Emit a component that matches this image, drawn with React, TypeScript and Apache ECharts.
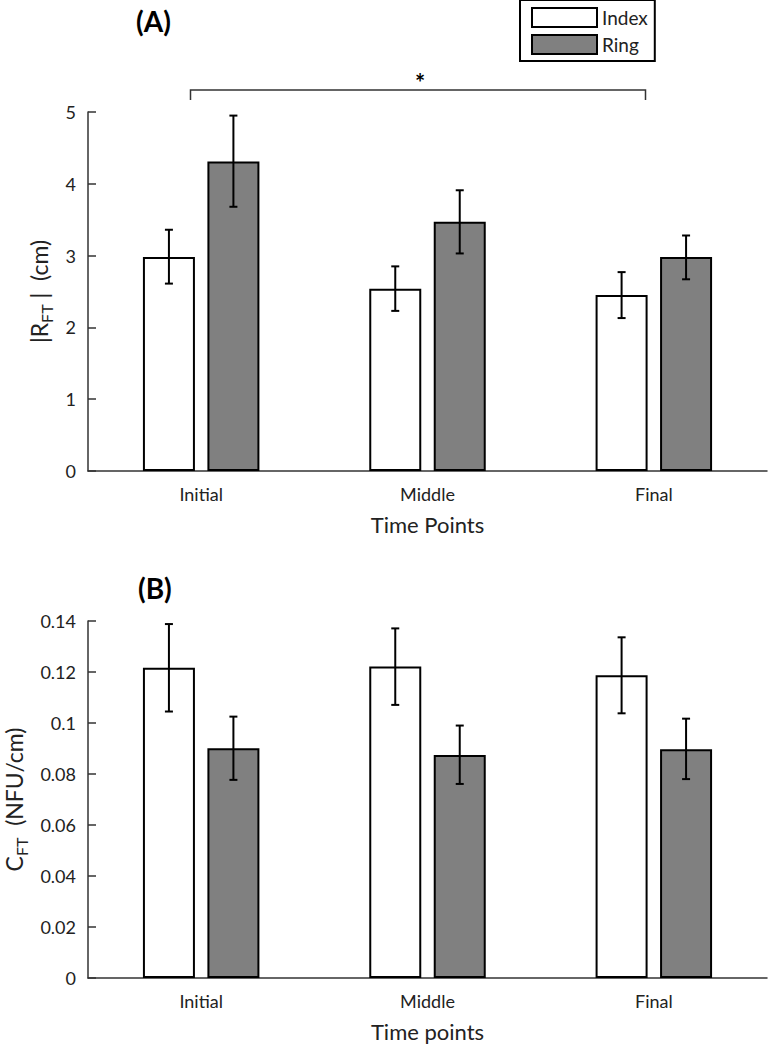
import React, { useEffect, useRef } from "react";
import * as echarts from "echarts";

const categories = ["Initial", "Middle", "Final"];
const seriesNames = ["Index", "Ring"];

// Panel A: |R_FT| (cm)
const indexA = [2.98, 2.54, 2.45];
const indexALow = [2.61, 2.23, 2.13];
const indexAHigh = [3.36, 2.85, 2.77];
const ringA = [4.31, 3.47, 2.98];
const ringALow = [3.68, 3.03, 2.67];
const ringAHigh = [4.95, 3.91, 3.28];

// Panel B: C_FT (NFU/cm)
const indexB = [0.1217, 0.1222, 0.1187];
const indexBLow = [0.1045, 0.1071, 0.1038];
const indexBHigh = [0.1388, 0.1371, 0.1336];
const ringB = [0.0901, 0.0875, 0.0897];
const ringBLow = [0.0777, 0.0761, 0.078];
const ringBHigh = [0.1025, 0.099, 0.1017];

const FONT = "Lato";
const TXT = "#222";
const AX = "#333";
const BAR_W = 52;
const GAP_PCT = 24;
const OFFSET = BAR_W / 2 + (BAR_W * GAP_PCT) / 100 / 2;

function errSeries(name: string, gi: number, low: number[], high: number[], off: number) {
  return {
    type: "custom",
    name: name + "Err",
    xAxisIndex: gi,
    yAxisIndex: gi,
    z: 10,
    silent: true,
    data: low.map((l, i) => [i, l, high[i]]),
    renderItem: (params: any, api: any) => {
      const c = api.value(0);
      const pLo = api.coord([c, api.value(1)]);
      const pHi = api.coord([c, api.value(2)]);
      const x = pLo[0] + off;
      const h = 4;
      const st = { stroke: "#000", lineWidth: 2 };
      return {
        type: "group",
        children: [
          { type: "line", shape: { x1: x, y1: pLo[1], x2: x, y2: pHi[1] }, style: st },
          { type: "line", shape: { x1: x - h, y1: pLo[1], x2: x + h, y2: pLo[1] }, style: st },
          { type: "line", shape: { x1: x - h, y1: pHi[1], x2: x + h, y2: pHi[1] }, style: st },
        ],
      };
    },
  };
}

function barSeries(name: string, gi: number, data: number[], color: string) {
  return {
    type: "bar",
    name,
    xAxisIndex: gi,
    yAxisIndex: gi,
    data,
    barWidth: BAR_W,
    barGap: GAP_PCT + "%",
    itemStyle: { color, borderColor: "#000", borderWidth: 2 },
  };
}

function xAxis(gi: number, name: string) {
  return {
    type: "category",
    gridIndex: gi,
    data: categories,
    axisLine: { lineStyle: { color: AX, width: 1.5 } },
    axisTick: { alignWithLabel: true, inside: true, length: 6, lineStyle: { color: AX, width: 1.5 } },
    axisLabel: { color: TXT, fontFamily: FONT, fontSize: 18, margin: 14 },
    name,
    nameLocation: "middle",
    nameGap: 42,
    nameTextStyle: { color: TXT, fontFamily: FONT, fontSize: 22 },
  };
}

function yName(gap: number) {
  return {
    nameLocation: "middle",
    nameGap: gap,
    nameRotate: 90,
    nameTextStyle: {
      color: TXT,
      fontFamily: FONT,
      fontSize: 23,
      lineHeight: 24,
      rich: { s: { fontFamily: FONT, fontSize: 16, color: TXT, verticalAlign: "bottom", lineHeight: 16, padding: [0, 0, -4, 0] } },
    },
  };
}

export default function App() {
  const ref = useRef<HTMLDivElement>(null);
  useEffect(() => {
    if (!ref.current) return;
    const chart = echarts.init(ref.current, undefined, { renderer: "svg" });
    const yCommon = {
      type: "value",
      splitLine: { show: false },
      axisLine: { show: true, lineStyle: { color: AX, width: 1.5 } },
      axisTick: { show: true, inside: true, length: 8, lineStyle: { color: AX, width: 1.5 } },
      axisLabel: { color: TXT, fontFamily: FONT, fontSize: 18, margin: 12 },
    };
    const option: any = {
      animation: false,
      backgroundColor: "#fff",
      grid: [
        { left: 88, top: 112, width: 679, height: 359, outerBoundsMode: "none", containLabel: false },
        { left: 88, top: 621, width: 679, height: 357, outerBoundsMode: "none", containLabel: false },
      ],
      legend: {
        data: seriesNames,
        icon: "rect",
        orient: "vertical",
        left: 520,
        top: 0,
        borderColor: "#000",
        borderWidth: 2,
        padding: [7, 7, 6, 11],
        itemGap: 6,
        itemWidth: 65,
        itemHeight: 19,
        itemStyle: { borderColor: "#000", borderWidth: 2 },
        textStyle: { color: TXT, fontFamily: FONT, fontSize: 19 },
      },
      xAxis: [xAxis(0, "Time Points"), xAxis(1, "Time points")],
      yAxis: [
        {
          ...yCommon,
          gridIndex: 0,
          min: 0,
          max: 5,
          interval: 1,
          name: "|R{s|FT} |  (cm)",
          ...yName(36),
        },
        {
          ...yCommon,
          gridIndex: 1,
          min: 0,
          max: 0.14,
          interval: 0.02,
          name: "C{s|FT}  (NFU/cm)",
          ...yName(62),
        },
      ],
      graphic: [
        { type: "text", left: 136, top: 7, style: { text: "(A)", font: `bold 28px ${FONT}`, fill: "#000" } },
        { type: "text", left: 138, top: 574, style: { text: "(B)", font: `bold 28px ${FONT}`, fill: "#000" } },
        {
          type: "polyline",
          shape: { points: [[190.5, 100], [190.5, 90], [645.5, 90], [645.5, 100]] },
          style: { stroke: AX, lineWidth: 1.5, fill: "none" },
        },
        { type: "text", x: 420, y: 82, style: { text: "*", font: `bold 24px ${FONT}`, fill: "#000", align: "center", verticalAlign: "middle" } },
      ],
      series: [
        barSeries("Index", 0, indexA, "#ffffff"),
        barSeries("Ring", 0, ringA, "#808080"),
        errSeries("Index", 0, indexALow, indexAHigh, -OFFSET),
        errSeries("Ring", 0, ringALow, ringAHigh, OFFSET),
        barSeries("Index", 1, indexB, "#ffffff"),
        barSeries("Ring", 1, ringB, "#808080"),
        errSeries("Index", 1, indexBLow, indexBHigh, -OFFSET),
        errSeries("Ring", 1, ringBLow, ringBHigh, OFFSET),
      ],
    };
    chart.setOption(option);
    return () => chart.dispose();
  }, []);
  return <div ref={ref} style={{ position: "absolute", left: 0, top: 0, width: 768, height: 1046 }} />;
}
